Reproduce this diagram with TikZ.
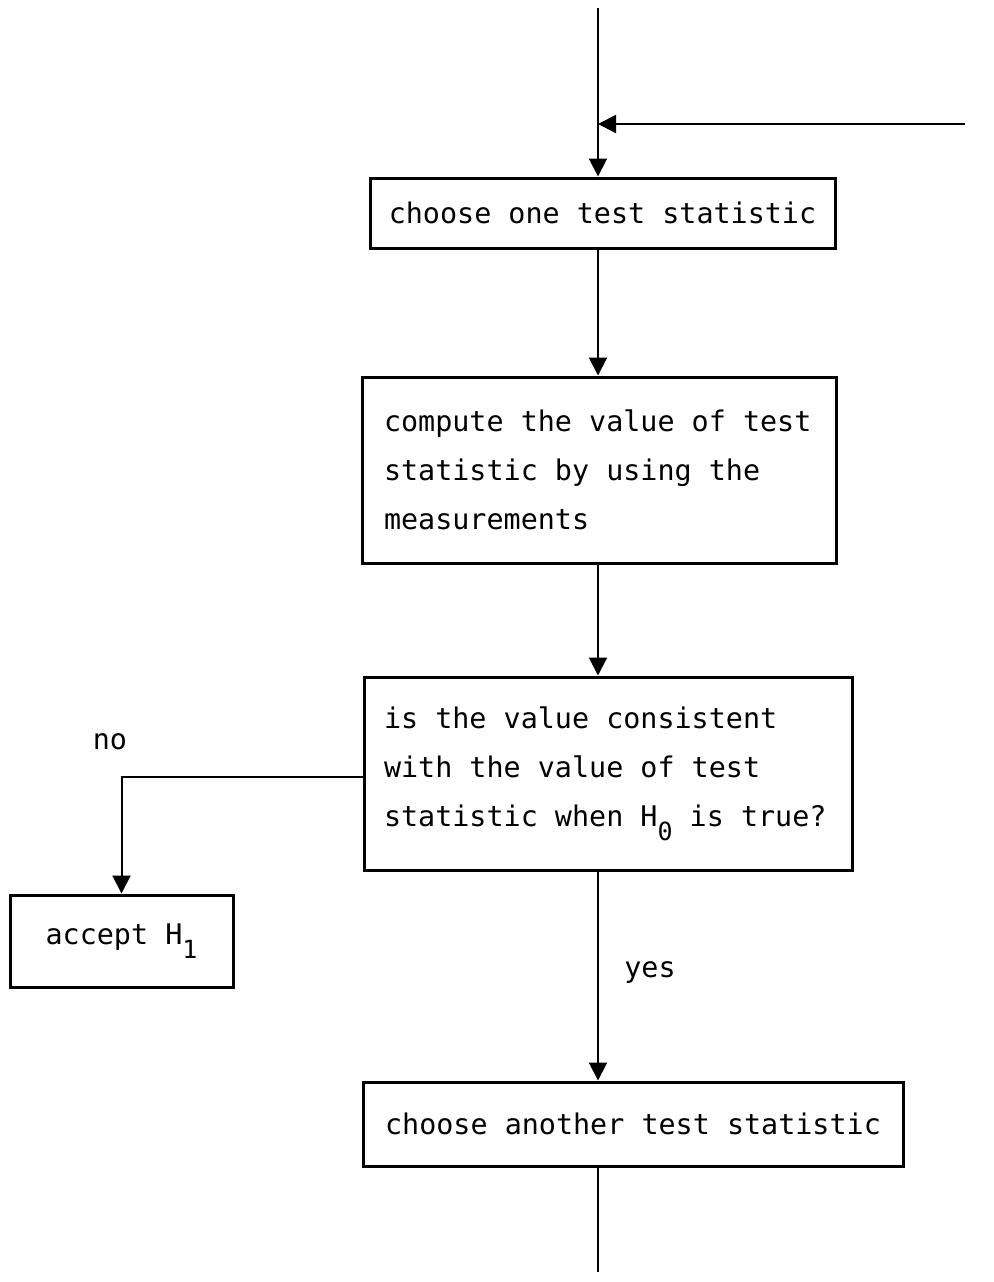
\documentclass[tikz,border=0pt]{standalone}
\usepackage{fontspec}
\usetikzlibrary{arrows.meta}
\newfontfamily\flowfont{DejaVu Sans Mono}
\newcommand{\lowsub}[1]{\raisebox{-0.9ex}{\fontsize{12.5}{12.5}\selectfont #1}}

\begin{document}
\begin{tikzpicture}[x=0.5pt, y=-0.5pt, >={Triangle[width=9pt, length=9pt]},
  font=\flowfont\fontsize{14.2}{24.5}\selectfont,
  box/.style={draw, line width=1.5pt, inner sep=0pt},
  textbox/.style={box, align=left, execute at begin node={\spaceskip=0pt\relax}},
  flow/.style={line width=1pt}]
  \useasboundingbox (0,0) rectangle (993,1282);
  \node[box, minimum width=232.5pt, minimum height=35pt] (choose) at (602.5,213) {choose one test statistic};
  \node[textbox, text width=215pt, inner xsep=11pt, minimum height=93pt] (compute) at (599,470)
    {compute the value of test\\statistic by using the\\measurements};
  \node[textbox, text width=224pt, inner xsep=10pt, minimum height=96.5pt] (consistent) at (608,773.5)
    {is the value consistent\\with the value of test\\statistic when H\lowsub{0} is true?};
  \node[box, minimum width=111.5pt, minimum height=46pt] (accept) at (121.5,941) {accept H\lowsub{1}};
  \node[box, minimum width=270pt, minimum height=42pt] (another) at (633,1124) {choose another test statistic};
  \node (no) at (110,742) {no};
  \node (yes) at (650,972) {yes};
  \coordinate (top) at (598,8);
  \coordinate (back) at (965,124);
  \coordinate (bottom) at (598,1272);
  \draw[flow, ->] (top) -- (top |- choose.north);
  \draw[flow, ->] (back) -- (back -| top);
  \draw[flow, ->] (choose.south -| top) -- (top |- compute.north);
  \draw[flow, ->] (compute.south -| top) -- (top |- consistent.north);
  \draw[flow, ->] (consistent.west |- 0,777) -| (accept.north);
  \draw[flow, ->] (consistent.south -| top) -- (top |- another.north);
  \draw[flow] (another.south -| top) -- (bottom);
\end{tikzpicture}
\end{document}
